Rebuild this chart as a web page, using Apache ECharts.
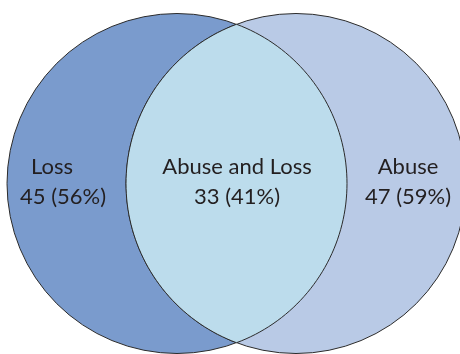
<!DOCTYPE html>
<html>
<head>
<meta charset="utf-8">
<script src="https://cdn.jsdelivr.net/npm/echarts@6/dist/echarts.min.js"></script>
<style>
  html, body { margin: 0; padding: 0; background: #fff; }
  #chart { width: 460px; height: 354px; }
</style>
</head>
<body>
<div id="chart"></div>
<script>
// Venn data
var setNames = ['Loss', 'Abuse'];
var setCounts = [45, 47];
var setPercents = [56, 59];
var overlapName = 'Abuse and Loss';
var overlapCount = 33;
var overlapPercent = 41;

// layout, in axis units (axis spans the 460x354 canvas)
var circleX = [177, 296];
var circleY = 183.5;
var circleR = 170;
var labelX = [[52, 63], [408, 408]];
var overlapLabelX = 237;
var labelY = [167, 197];
var fills = ['#7a9bcd', '#b9cae6'];
var overlapFill = '#bcdcec';
var font = 'Lato, "Noto Sans", sans-serif';

var chart = echarts.init(document.getElementById('chart'));

var circleData = setNames.map(function (n, i) {
  return [circleX[i], circleY, circleR, i];
});

// lens (intersection) drawn from both circles
var renderLens = function (params, api) {
  var c1 = api.coord([circleX[0], circleY]);
  var c2 = api.coord([circleX[1], circleY]);
  var r = api.size([circleR, circleR])[0];
  var d = (c2[0] - c1[0]) / 2;
  var h = Math.sqrt(r * r - d * d);
  var a = Math.atan2(h, d);
  var pts = [];
  var n = 80, k, t;
  // right circle, its left arc from top to bottom
  for (k = 0; k <= n; k++) {
    t = Math.PI + a - 2 * a * k / n;
    pts.push([c2[0] + r * Math.cos(t), c2[1] + r * Math.sin(t)]);
  }
  // left circle, its right arc from bottom to top
  for (k = 0; k <= n; k++) {
    t = a - 2 * a * k / n;
    pts.push([c1[0] + r * Math.cos(t), c1[1] + r * Math.sin(t)]);
  }
  return {
    type: 'polygon',
    shape: { points: pts },
    style: { fill: overlapFill, stroke: '#2b2b2b', lineWidth: 1 }
  };
};

var textItem = function (txt, x, y, api) {
  var p = api.coord([x, y]);
  return {
    type: 'text',
    style: {
      text: txt, x: p[0], y: p[1],
      fill: '#231f20', fontSize: 22, fontFamily: font,
      align: 'center', verticalAlign: 'middle'
    }
  };
};

chart.setOption({
  animation: false,
  grid: { left: 0, right: 0, top: 0, bottom: 0 },
  xAxis: { type: 'value', min: 0, max: 460, show: false },
  yAxis: { type: 'value', min: 0, max: 354, inverse: true, show: false },
  series: [
    {
      type: 'custom',
      clip: false,
      data: circleData,
      renderItem: function (params, api) {
        var c = api.coord([api.value(0), api.value(1)]);
        var r = api.size([api.value(2), api.value(2)])[0];
        return {
          type: 'circle',
          shape: { cx: c[0], cy: c[1], r: r },
          style: { fill: fills[api.value(3)], stroke: '#2b2b2b', lineWidth: 1 }
        };
      }
    },
    {
      type: 'custom',
      clip: false,
      data: [[overlapCount]],
      renderItem: renderLens
    },
    {
      type: 'custom',
      data: [[0]],
      renderItem: function (params, api) {
        var kids = [];
        setNames.forEach(function (n, i) {
          kids.push(textItem(n, labelX[i][0], labelY[0], api));
          kids.push(textItem(setCounts[i] + ' (' + setPercents[i] + '%)', labelX[i][1], labelY[1], api));
        });
        kids.push(textItem(overlapName, overlapLabelX, labelY[0], api));
        kids.push(textItem(overlapCount + ' (' + overlapPercent + '%)', overlapLabelX, labelY[1], api));
        return { type: 'group', children: kids };
      }
    }
  ]
});
</script>
</body>
</html>
